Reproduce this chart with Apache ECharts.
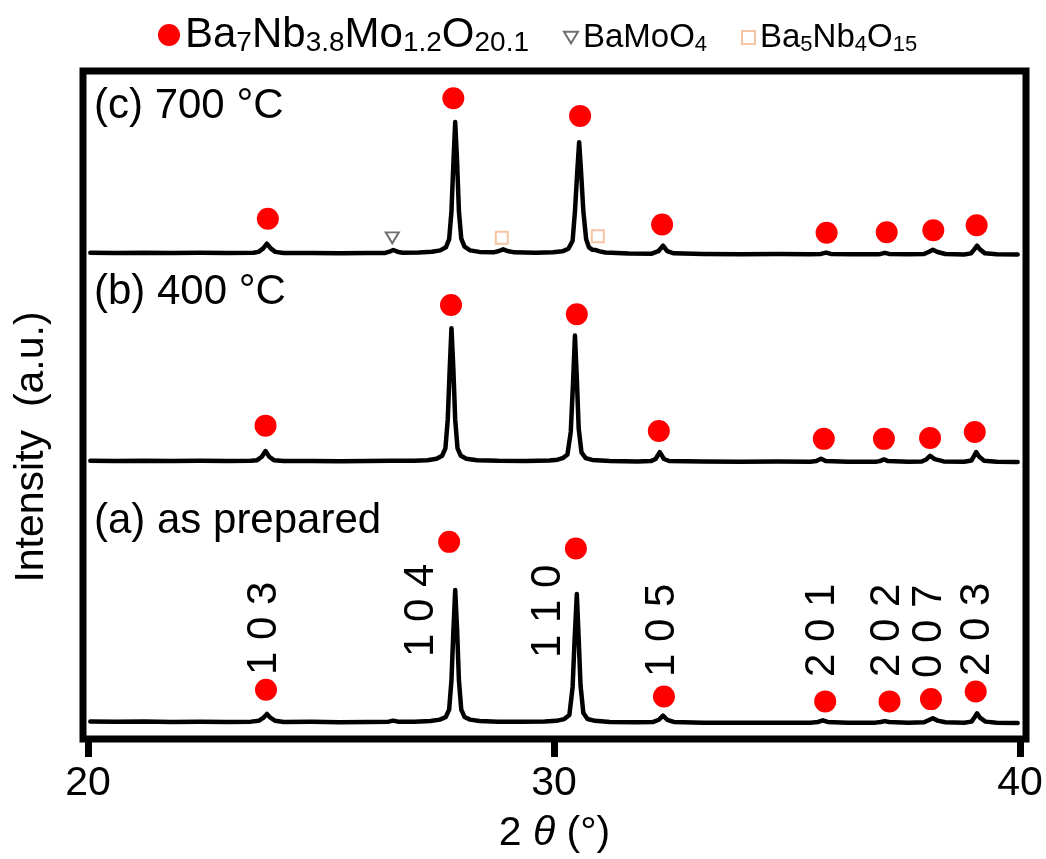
<!DOCTYPE html>
<html>
<head>
<meta charset="utf-8">
<script src="https://cdn.jsdelivr.net/npm/echarts@6/dist/echarts.min.js"></script>
<style>
  html, body { margin: 0; padding: 0; background: #fff; }
  #chart { width: 1046px; height: 859px; }
</style>
</head>
<body>
<div id="chart"></div>
<script>
// XRD patterns of Ba7Nb3.8Mo1.2O20.1 after different treatments, stacked with offsets.
// Each pattern is a list of [2θ (deg), intensity (a.u., offset)] pairs.

const traceA = [ // (a) as prepared
  [20.05, 2.62], [20.6, 2.58], [21.2, 2.62], [21.8, 2.55], [22.4, 2.6], [23.0, 2.56], [23.5, 2.6],
  [23.66, 2.72], [23.76, 3.15], [23.84, 3.75], [23.92, 3.15], [24.02, 2.72], [24.2, 2.55], [24.8, 2.58],
  [25.4, 2.52], [26.0, 2.55], [26.45, 2.6], [26.55, 2.75], [26.65, 2.6], [27.0, 2.6], [27.35, 2.7],
  [27.55, 2.9], [27.68, 3.3], [27.75, 4.4], [27.80, 8.8], [27.84, 16], [27.88, 22.3], [27.92, 16.5],
  [27.96, 8.8], [28.01, 4.4], [28.08, 3.3], [28.2, 2.9], [28.4, 2.7], [28.8, 2.6], [29.3, 2.58],
  [29.8, 2.62], [30.05, 2.72], [30.22, 2.98], [30.33, 3.6], [30.40, 7.8], [30.44, 14.5], [30.49, 21.7],
  [30.53, 15], [30.57, 8], [30.63, 3.9], [30.72, 3.0], [30.88, 2.72], [31.2, 2.55], [31.8, 2.5],
  [32.13, 2.55], [32.25, 2.88], [32.34, 3.5], [32.43, 2.88], [32.57, 2.55], [33.2, 2.45], [34.0, 2.42],
  [34.8, 2.45], [35.5, 2.45], [35.67, 2.55], [35.77, 2.8], [35.87, 2.55], [36.3, 2.45], [36.9, 2.45],
  [37.01, 2.55], [37.10, 2.68], [37.19, 2.55], [37.6, 2.42], [37.94, 2.5], [38.05, 2.85], [38.13, 3.1],
  [38.23, 2.75], [38.4, 2.5], [38.8, 2.42], [38.96, 2.6], [39.03, 3.3], [39.08, 3.85], [39.14, 3.2],
  [39.26, 2.6], [39.5, 2.45], [39.95, 2.4]
];

const traceB = [ // (b) 400 °C
  [20.05, 41.66], [20.6, 41.62], [21.2, 41.66], [21.8, 41.6], [22.4, 41.64], [23.0, 41.6], [23.5, 41.64],
  [23.63, 41.74], [23.73, 42.25], [23.81, 43.1], [23.89, 42.25], [23.99, 41.74], [24.2, 41.6], [24.8, 41.62],
  [25.4, 41.58], [26.0, 41.6], [26.5, 41.64], [27.0, 41.64], [27.28, 41.74], [27.48, 41.95], [27.6, 42.4],
  [27.67, 43.5], [27.72, 47.8], [27.76, 55], [27.80, 61.5], [27.84, 55.5], [27.88, 47.8], [27.93, 43.5],
  [28.0, 42.4], [28.12, 41.95], [28.35, 41.74], [28.8, 41.64], [29.4, 41.62], [29.9, 41.68], [30.08, 41.82],
  [30.2, 42.1], [30.29, 42.6], [30.36, 46], [30.41, 53.5], [30.45, 60.4], [30.49, 54], [30.53, 46.5],
  [30.59, 42.9], [30.68, 42.05], [30.82, 41.78], [31.2, 41.62], [31.8, 41.56], [32.08, 41.6], [32.18, 41.92],
  [32.27, 42.95], [32.36, 41.92], [32.47, 41.62], [33.2, 41.54], [34.0, 41.52], [34.8, 41.54], [35.5, 41.52],
  [35.63, 41.6], [35.73, 41.95], [35.83, 41.6], [36.3, 41.52], [36.9, 41.52], [36.99, 41.6], [37.08, 41.85],
  [37.17, 41.6], [37.6, 41.5], [37.89, 41.55], [37.99, 41.85], [38.07, 42.4], [38.17, 41.9], [38.36, 41.56],
  [38.8, 41.5], [38.96, 41.7], [39.01, 42.3], [39.06, 42.95], [39.12, 42.3], [39.23, 41.66], [39.5, 41.5],
  [39.95, 41.48]
];

const traceC = [ // (c) 700 °C
  [20.05, 72.8], [20.6, 72.76], [21.2, 72.8], [21.8, 72.74], [22.4, 72.78], [23.0, 72.74], [23.55, 72.78],
  [23.66, 72.92], [23.76, 73.45], [23.84, 74.15], [23.92, 73.45], [24.02, 72.92], [24.2, 72.74], [24.8, 72.76],
  [25.4, 72.72], [26.0, 72.74], [26.38, 72.76], [26.47, 72.95], [26.55, 73.2], [26.64, 72.95], [26.75, 72.8],
  [27.1, 72.82], [27.38, 72.94], [27.56, 73.15], [27.68, 73.6], [27.75, 74.8], [27.80, 79], [27.84, 86],
  [27.88, 92.35], [27.92, 86.5], [27.96, 79], [28.01, 74.9], [28.08, 73.7], [28.2, 73.15], [28.4, 72.92],
  [28.7, 72.85], [28.82, 73.05], [28.91, 73.3], [29.0, 73.05], [29.15, 72.85], [29.6, 72.8], [29.98, 72.88],
  [30.18, 73.0], [30.31, 73.4], [30.40, 74.6], [30.45, 79], [30.50, 85], [30.54, 89.35], [30.58, 85],
  [30.63, 79], [30.69, 74.8], [30.75, 73.6], [30.82, 73.25], [30.90, 73.2], [30.98, 73.0], [31.1, 72.82],
  [31.6, 72.68], [32.1, 72.66], [32.24, 73.02], [32.34, 73.85], [32.43, 73.02], [32.57, 72.7], [33.2, 72.6],
  [34.0, 72.56], [34.8, 72.6], [35.5, 72.58], [35.73, 72.62], [35.84, 72.82], [35.94, 72.62], [36.4, 72.56],
  [36.95, 72.56], [37.01, 72.62], [37.10, 72.78], [37.19, 72.62], [37.6, 72.55], [37.94, 72.6], [38.05, 72.95],
  [38.13, 73.25], [38.23, 72.9], [38.4, 72.6], [38.8, 72.54], [38.95, 72.7], [39.02, 73.3], [39.08, 73.85],
  [39.14, 73.3], [39.25, 72.7], [39.5, 72.56], [39.95, 72.52]
];

// Reflections indexed to Ba7Nb3.8Mo1.2O20.1 (red dots above each pattern)
const mainPhaseMarks = [
  [23.82, 7.36], [27.75, 29.51], [30.47, 28.51], [32.36, 6.37], [35.82, 5.63], [37.20, 5.63], [38.09, 5.97], [39.05, 7.12],
  [23.81, 46.91], [27.79, 64.97], [30.49, 63.58], [32.25, 46.12], [35.79, 44.93], [37.08, 44.93], [38.07, 45.07], [39.03, 45.97],
  [23.86, 77.87], [27.84, 95.93], [30.56, 93.28], [32.32, 77.01], [35.85, 75.78], [37.14, 75.87], [38.14, 76.16], [39.07, 76.91]
];
// Secondary phases found after 700 °C
const baMoO4Marks = [[26.53, 75.03]];
const ba5Nb4O15Marks = [[28.88, 75.03], [30.94, 75.27]];

// Miller indices of the as-prepared pattern
const hklNames = ['1 0 3', '1 0 4', '1 1 0', '1 0 5', '2 0 1', '2 0 2', '0 0 7', '2 0 3'];
const hklTheta = [23.78, 27.15, 29.89, 32.32, 35.75, 37.15, 38.05, 39.08];
const hklLevel = [16.57, 19.25, 19.10, 16.27, 16.27, 16.27, 16.12, 16.42];

const xTicks = [20, 30, 40];
const phaseNames = ['Ba7Nb3.8Mo1.2O20.1', 'BaMoO4', 'Ba5Nb4O15'];
const panelLabels = ['(c) 700 °C', '(b) 400 °C', '(a) as prepared'];

const FONT = '"Liberation Sans", Arial, Helvetica, sans-serif';

const chart = echarts.init(document.getElementById('chart'));

const lineSeries = (name, data) => ({
  name, type: 'line', data, showSymbol: false, symbol: 'none',
  lineStyle: { color: '#000', width: 4.5, join: 'round', cap: 'round' }, z: 2, silent: true
});

const hklData = hklNames.map((n, i) => ({ name: n, value: [hklTheta[i], hklLevel[i]] }));

const legendBase = {
  orient: 'horizontal', padding: 0, selectedMode: false,
  textStyle: { color: '#000', fontFamily: FONT }
};

const option = {
  animation: false,
  backgroundColor: '#fff',
  grid: {
    left: 83, right: 20, top: 71, bottom: 118,
    show: true, borderColor: '#000', borderWidth: 7, backgroundColor: 'transparent'
  },
  legend: [
    Object.assign({}, legendBase, {
      left: 158, top: 14, itemWidth: 22, itemHeight: 22,
      data: [{ name: phaseNames[0], icon: 'circle' }],
      itemStyle: { color: '#ff0000', borderWidth: 0 },
      formatter: () => '{b|Ba}{s|7}{b|Nb}{s|3.8}{b|Mo}{s|1.2}{b|O}{s|20.1}',
      textStyle: {
        color: '#000', fontFamily: FONT,
        rich: {
          b: { fontSize: 42, lineHeight: 44, verticalAlign: 'middle', fontFamily: FONT, color: '#000' },
          s: { fontSize: 28, lineHeight: 13, verticalAlign: 'bottom', fontFamily: FONT, color: '#000' }
        }
      }
    }),
    Object.assign({}, legendBase, {
      left: 563, top: 21, itemWidth: 14, itemHeight: 12,
      data: [{ name: phaseNames[1] }],
      itemStyle: { color: 'rgba(0,0,0,0)', borderColor: '#6e6e6e', borderWidth: 2 },
      formatter: () => '{b|BaMoO}{s|4}',
      textStyle: {
        color: '#000', fontFamily: FONT,
        rich: {
          b: { fontSize: 33, lineHeight: 36, verticalAlign: 'middle', fontFamily: FONT, color: '#000' },
          s: { fontSize: 22, lineHeight: 11, verticalAlign: 'bottom', fontFamily: FONT, color: '#000' }
        }
      }
    }),
    Object.assign({}, legendBase, {
      left: 741, top: 21, itemWidth: 13, itemHeight: 13,
      data: [{ name: phaseNames[2] }],
      itemStyle: { color: 'rgba(0,0,0,0)', borderColor: '#f5c4a2', borderWidth: 2 },
      formatter: () => '{b|Ba}{s|5}{b|Nb}{s|4}{b|O}{s|15}',
      textStyle: {
        color: '#000', fontFamily: FONT,
        rich: {
          b: { fontSize: 33, lineHeight: 36, verticalAlign: 'middle', fontFamily: FONT, color: '#000' },
          s: { fontSize: 22, lineHeight: 11, verticalAlign: 'bottom', fontFamily: FONT, color: '#000' }
        }
      }
    })
  ],
  xAxis: {
    type: 'value', min: 19.893, max: 40.129,
    axisLine: { show: false },
    splitLine: { show: false },
    axisTick: { show: true, customValues: xTicks, length: 18, lineStyle: { color: '#000', width: 7 } },
    axisLabel: { customValues: xTicks, fontSize: 41, margin: 24, color: '#000', fontFamily: FONT },
    name: '2 {i|θ} (°)',
    nameLocation: 'middle', nameGap: 74,
    nameTextStyle: {
      fontSize: 41, color: '#000', fontFamily: FONT,
      rich: { i: { fontSize: 41, fontStyle: 'italic', color: '#000', fontFamily: FONT } }
    }
  },
  yAxis: {
    type: 'value', min: 0, max: 100,
    axisLine: { show: false }, axisTick: { show: false },
    axisLabel: { show: false }, splitLine: { show: false }
  },
  graphic: [
    {
      type: 'text', x: 32, y: 447, rotation: Math.PI / 2,
      style: { text: 'Intensity  (a.u.)', font: '41px ' + FONT, fill: '#000', textAlign: 'center', textVerticalAlign: 'middle' }
    },
    { type: 'text', x: 94, y: 106, style: { text: panelLabels[0], font: '42px ' + FONT, fill: '#000', textAlign: 'left', textVerticalAlign: 'middle' } },
    { type: 'text', x: 94, y: 292, style: { text: panelLabels[1], font: '42px ' + FONT, fill: '#000', textAlign: 'left', textVerticalAlign: 'middle' } },
    { type: 'text', x: 94, y: 521, style: { text: panelLabels[2], font: '42px ' + FONT, fill: '#000', textAlign: 'left', textVerticalAlign: 'middle' } }
  ],
  series: [
    lineSeries('(a) as prepared', traceA),
    lineSeries('(b) 400 °C', traceB),
    lineSeries('(c) 700 °C', traceC),
    {
      name: phaseNames[0], type: 'scatter', data: mainPhaseMarks,
      symbol: 'circle', symbolSize: 22, itemStyle: { color: '#ff0000', opacity: 1 }, z: 3
    },
    {
      name: phaseNames[1], type: 'scatter', data: baMoO4Marks,
      symbol: 'path://M0,0 L12,0 L6,10 Z', symbolSize: [13, 11],
      itemStyle: { color: 'rgba(0,0,0,0)', borderColor: '#6e6e6e', borderWidth: 2, opacity: 1 }, z: 3
    },
    {
      name: phaseNames[2], type: 'scatter', data: ba5Nb4O15Marks,
      symbol: 'rect', symbolSize: 12,
      itemStyle: { color: 'rgba(0,0,0,0)', borderColor: '#f5c4a2', borderWidth: 2, opacity: 1 }, z: 3
    },
    {
      name: 'hkl', type: 'scatter', data: hklData, symbolSize: 1, silent: true,
      itemStyle: { color: 'rgba(0,0,0,0)', opacity: 1 },
      label: {
        show: true, position: 'inside', rotate: 90, formatter: '{b}',
        fontSize: 42, color: '#000', fontFamily: FONT, align: 'center', verticalAlign: 'middle',
        textBorderWidth: 0, opacity: 1
      },
      z: 4
    }
  ]
};

chart.setOption(option);
</script>
</body>
</html>
